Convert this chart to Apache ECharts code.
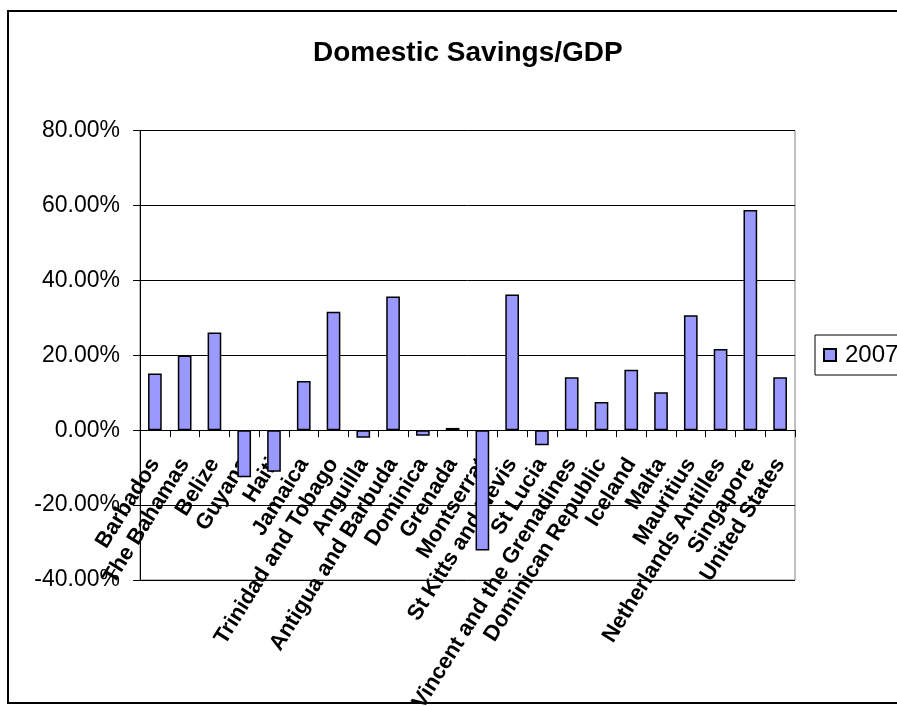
<!DOCTYPE html>
<html>
<head>
<meta charset="utf-8">
<script src="https://cdn.jsdelivr.net/npm/echarts@6/dist/echarts.min.js"></script>
<style>
html,body{margin:0;padding:0;background:#fff;}
#chart{width:897px;height:706px;}
</style>
</head>
<body>
<div id="chart"></div>
<script>
const categories = ["Barbados","The Bahamas","Belize","Guyana","Haiti","Jamaica","Trinidad and Tobago","Anguilla","Antigua and Barbuda","Dominica","Grenada","Montserrat","St Kitts and Nevis","St Lucia","St Vincent and the Grenadines","Dominican Republic","Iceland","Malta","Mauritius","Netherlands Antilles","Singapore","United States"];
const values2007 = [0.151,0.199,0.261,-0.126,-0.111,0.131,0.316,-0.020,0.357,-0.015,0.006,-0.321,0.362,-0.040,0.141,0.075,0.161,0.101,0.307,0.217,0.588,0.141];
const seriesName = "2007";
const titleText = "Domestic Savings/GDP";
const yMin = -0.4, yMax = 0.8;

const gridTop = 130.5, gridBottom = 126, chartH = 706;
const gridH = chartH - gridTop - gridBottom;
const zeroOffset = gridH * (0 - yMin) / (yMax - yMin);

const chart = echarts.init(document.getElementById('chart'));
chart.setOption({
  backgroundColor: '#fff',
  animation: false,
  title: {
    text: titleText,
    left: 308,
    top: 34,
    textStyle: {fontFamily: 'Liberation Sans, Arial, sans-serif', fontWeight: 'bold', fontSize: 28, color: '#000'}
  },
  graphic: [{
    type: 'rect',
    shape: {x: 8, y: 11, width: 905, height: 692},
    style: {fill: 'none', stroke: '#000', lineWidth: 2},
    silent: true, z: 100
  }],
  legend: {
    left: 815, top: 335,
    orient: 'vertical',
    data: [seriesName],
    icon: 'rect',
    itemWidth: 12, itemHeight: 12,
    itemGap: 5,
    padding: [8, 8],
    borderColor: '#000', borderWidth: 1,
    textStyle: {fontFamily: 'Liberation Sans, Arial, sans-serif', fontSize: 24, color: '#000', padding: [0, 0, 0, 4]}
  },
  grid: {
    left: 140, top: gridTop, right: 102, bottom: gridBottom,
    containLabel: false,
    outerBoundsMode: 'none',
    show: true, borderColor: '#808080', borderWidth: 1, backgroundColor: '#fff'
  },
  xAxis: {
    type: 'category',
    data: categories,
    position: 'bottom',
    offset: -zeroOffset,
    axisLine: {onZero: false, lineStyle: {color: '#000', width: 1}},
    axisTick: {show: true, length: 7, lineStyle: {color: '#000'}},
    axisLabel: {
      interval: 0, rotate: 58, margin: 30,
      padding: [14, 0, 0, 0],
      fontFamily: 'Liberation Sans, Arial, sans-serif', fontWeight: 'bold', fontSize: 22, color: '#000'
    },
    splitLine: {show: false}
  },
  yAxis: {
    type: 'value',
    min: yMin, max: yMax, interval: 0.2,
    axisLine: {show: true, lineStyle: {color: '#000', width: 1}},
    axisTick: {show: true, length: 7, lineStyle: {color: '#000'}},
    axisLabel: {
      margin: 20,
      formatter: v => (v * 100).toFixed(2) + '%',
      fontFamily: 'Liberation Sans, Arial, sans-serif', fontSize: 23, color: '#000'
    },
    splitLine: {show: true, lineStyle: {color: '#000', width: 1}}
  },
  series: [{
    name: seriesName,
    type: 'bar',
    data: values2007,
    barWidth: '46%',
    itemStyle: {color: '#9999FF', borderColor: '#000', borderWidth: 1.5}
  }]
});
</script>
</body>
</html>
